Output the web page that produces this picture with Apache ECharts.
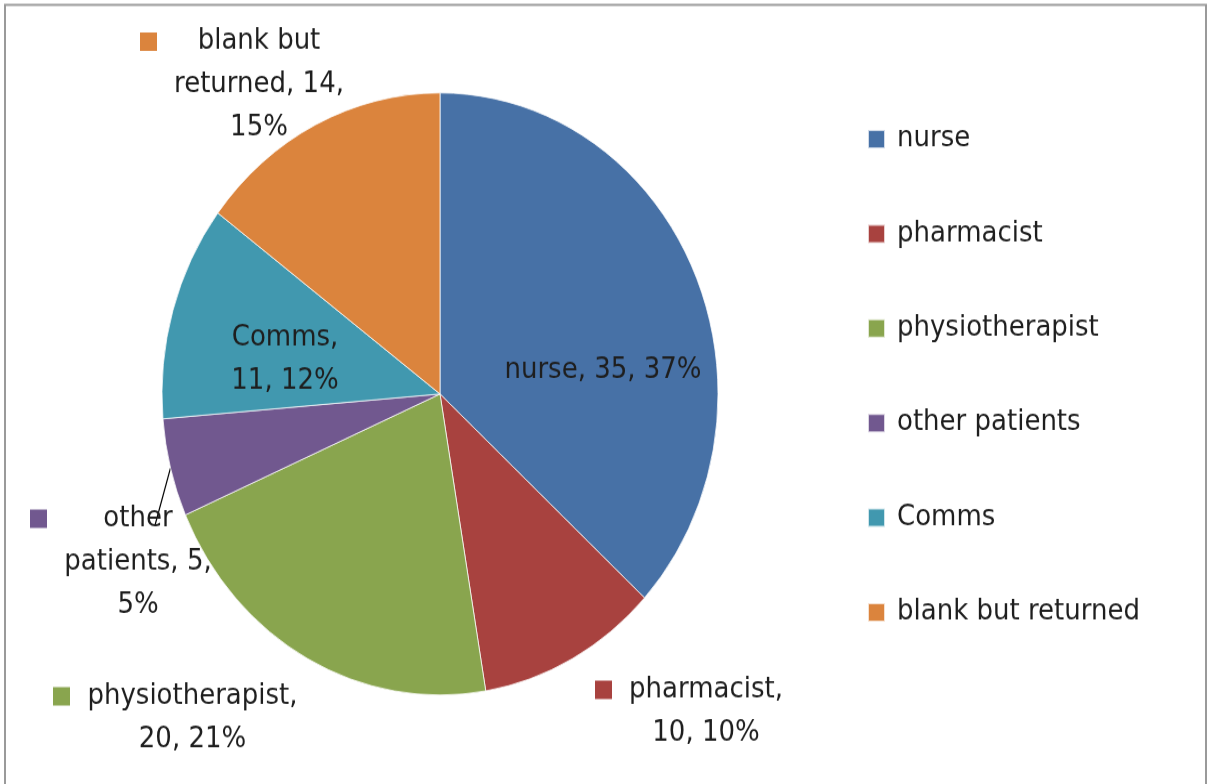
<!DOCTYPE html>
<html>
<head>
<meta charset="utf-8">
<script src="https://cdn.jsdelivr.net/npm/echarts@6/dist/echarts.min.js"></script>
<style>
  html, body { margin: 0; padding: 0; background: #fff; }
  #wrap { width: 1207px; height: 784px; overflow: hidden; background: #fff; }
  /* the chart is laid out at 724px tall and stretched to fill 784px */
  #chart { width: 1207px; height: 724px; transform: scaleY(1.0829); transform-origin: 0 0; }
</style>
</head>
<body>
<div id="wrap"><div id="chart"></div></div>
<script>
// Who returned the forms
const categories = ['nurse', 'pharmacist', 'physiotherapist', 'other patients', 'Comms', 'blank but returned'];
const counts = [35, 10, 20, 5, 11, 14];
const colors = ['#4771A6', '#A8423F', '#89A54E', '#71588F', '#4198AF', '#DB843D'];

const FONT_FAMILY = "'DejaVu Sans', sans-serif";
const FONT_SIZE = 26;
const LINE_H = 40;
const TEXT_COLOR = '#1e1e1e';

// Label box: anchor point, alignment, wrap width and whether a colour key is shown
const labelSpots = [
  { x: 603, y: 342, align: 'center', wrap: 400, key: false },
  { x: 595, y: 657, align: 'left', wrap: 180, key: true },
  { x: 53,  y: 663, align: 'left', wrap: 215, key: true },
  { x: 30,  y: 519, align: 'left', wrap: 160, key: true, lineEnd: [125, -34] },
  { x: 285, y: 332, align: 'center', wrap: 130, key: false },
  { x: 140, y: 78.5, align: 'left', wrap: 180, key: true }
];

const ctx = document.createElement('canvas').getContext('2d');
ctx.font = FONT_SIZE + 'px ' + FONT_FAMILY;
const textW = s => ctx.measureText(s).width;

// whole-number shares that add up to 100 (largest remainder)
function percentSeats(vals) {
  const total = vals.reduce((a, b) => a + b, 0);
  const raw = vals.map(v => v / total * 100);
  const seats = raw.map(Math.floor);
  const left = 100 - seats.reduce((a, b) => a + b, 0);
  const order = raw.map((r, i) => [r - Math.floor(r), i]).sort((a, b) => b[0] - a[0]);
  for (let k = 0; k < left; k++) seats[order[k][1]]++;
  return seats;
}

function wrapWords(text, maxW) {
  const words = text.split(' ');
  const lines = [];
  let cur = '';
  words.forEach(w => {
    const trial = cur ? cur + ' ' + w : w;
    if (cur && textW(trial) > maxW) { lines.push(cur); cur = w; }
    else cur = trial;
  });
  if (cur) lines.push(cur);
  return lines;
}

const pcts = percentSeats(counts);
const KEY = 17, GAP = 16;

const pieData = categories.map((name, i) => {
  const spot = labelSpots[i];
  const lines = wrapWords(name + ', ' + counts[i] + ', ' + pcts[i] + '%', spot.wrap);
  const item = {
    name: name,
    value: counts[i],
    itemStyle: { color: colors[i] },
    labelLine: { show: !!spot.lineEnd, lineStyle: { color: '#000', width: 1.2 }, length: 8, length2: 0 }
  };
  if (spot.key) {
    const maxW = Math.ceil(Math.max.apply(null, lines.map(textW))) + 2;
    const str = lines.map((ln, k) => (k === 0 ? '{key|}{gap|}' : '{pad|}') + '{t|' + ln + '}').join('\n');
    item.label = {
      position: 'outside',
      formatter: str,
      rich: {
        key: { width: KEY, height: KEY, backgroundColor: colors[i], lineHeight: LINE_H },
        gap: { width: GAP, lineHeight: LINE_H },
        pad: { width: KEY + GAP, lineHeight: LINE_H },
        t: { width: maxW, align: 'center', fontSize: FONT_SIZE, fontFamily: FONT_FAMILY, color: TEXT_COLOR, lineHeight: LINE_H }
      }
    };
  } else {
    item.label = { position: 'inside', formatter: lines.join('\n'), align: 'center' };
  }
  return item;
});

const chart = echarts.init(document.getElementById('chart'), null, { renderer: 'canvas' });
chart.setOption({
  animation: false,
  backgroundColor: '#fff',
  textStyle: { fontFamily: FONT_FAMILY },
  graphic: [{
    type: 'rect',
    shape: { x: 5, y: 4.6, width: 1201, height: 800 },
    style: { fill: 'none', stroke: '#9a9a9a', lineWidth: 2 },
    silent: true
  }],
  legend: {
    orient: 'vertical',
    left: 867,
    top: 115.5,
    padding: 0,
    icon: 'rect',
    itemWidth: 17,
    itemHeight: 17,
    itemGap: 61.4,
    data: categories,
    selectedMode: false,
    textStyle: { fontSize: FONT_SIZE, lineHeight: 26, color: TEXT_COLOR, fontFamily: FONT_FAMILY, padding: [0, 0, 0, 7] }
  },
  series: [{
    type: 'pie',
    center: [440, 363.8],
    radius: 278,
    startAngle: 90,
    clockwise: true,
    avoidLabelOverlap: false,
    silent: true,
    emphasis: { disabled: true },
    itemStyle: { borderColor: 'rgba(255,255,255,0.75)', borderWidth: 1 },
    label: {
      fontSize: FONT_SIZE,
      fontFamily: FONT_FAMILY,
      color: TEXT_COLOR,
      lineHeight: LINE_H
    },
    labelLayout: function (params) {
      const s = labelSpots[params.dataIndex];
      const out = { x: s.x, y: s.y, align: s.align, verticalAlign: 'middle' };
      // leader line: from the slice rim into the label block
      if (s.lineEnd && params.labelLinePoints && params.labelLinePoints.length) {
        const start = params.labelLinePoints[0];
        out.labelLinePoints = [start, [s.x + s.lineEnd[0], s.y + s.lineEnd[1]]];
      }
      return out;
    },
    data: pieData
  }]
});
</script>
</body>
</html>
